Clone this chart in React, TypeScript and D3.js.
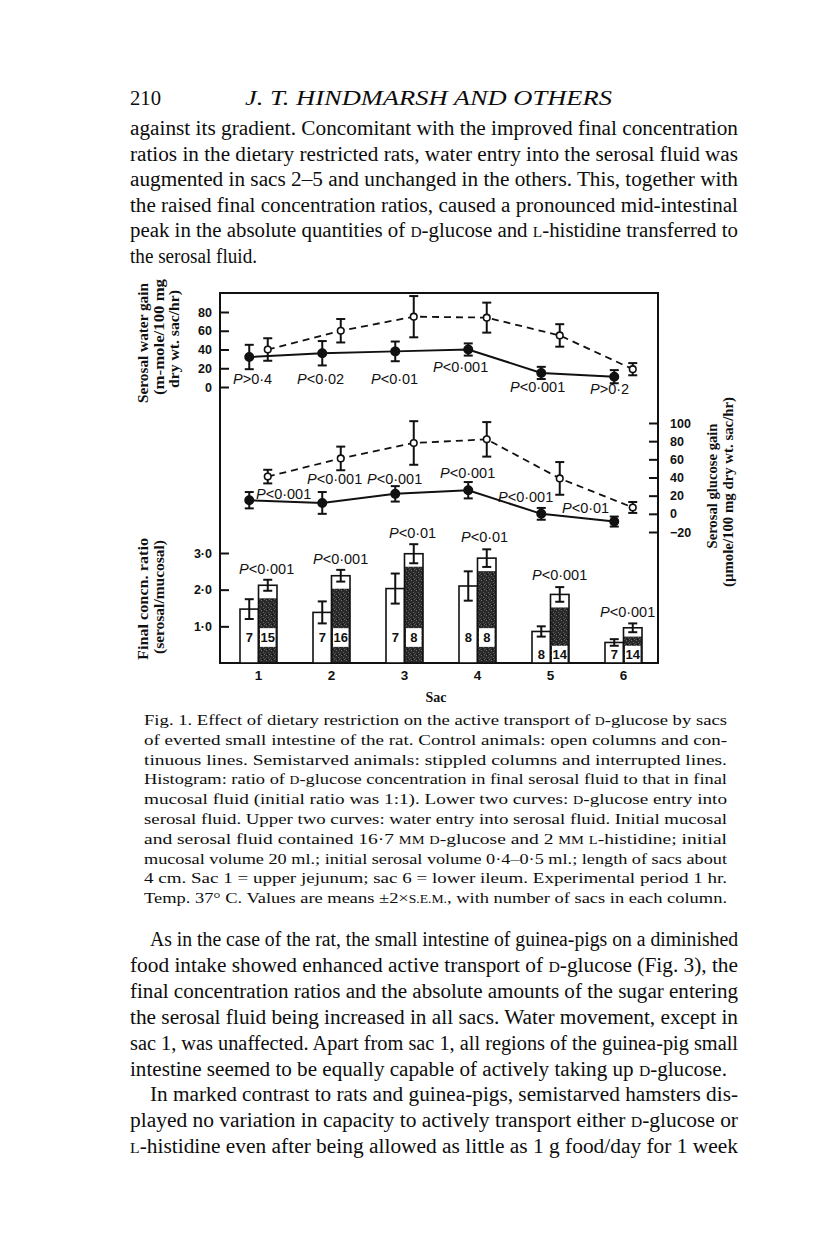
import { useEffect, useRef } from 'react';
import * as d3 from 'd3';

// ---- data ----
const sacs = [1, 2, 3, 4, 5, 6];

const waterControl = [32, 36, 38, 40, 15, 11];
const waterControlErr = [13, 13, 10.5, 6.5, 6.5, 7];
const waterStarved = [40, 60, 75, 74, 55, 19];
const waterStarvedErr = [12, 12.5, 22, 16, 12, 6.5];

const glucoseControl = [15, 12, 22, 26, 0, -8.5];
const glucoseControlErr = [9, 12, 8.5, 9, 6.5, 5.5];
const glucoseStarved = [41, 61, 78, 82, 39, 7];
const glucoseStarvedErr = [7.5, 13, 24, 19, 18, 6];

const ratioControl = [1.47, 1.38, 2.03, 2.1, 0.86, 0.56];
const ratioControlErr = [0.27, 0.3, 0.41, 0.4, 0.14, 0.09];
const ratioStarved = [2.12, 2.38, 2.98, 2.86, 1.87, 0.96];
const ratioStarvedErr = [0.15, 0.16, 0.26, 0.24, 0.2, 0.12];

const countControl = ['7', '7', '7', '8', '8', '7'];
const countStarved = ['15', '16', '8', '8', '14', '14'];

const pWater = ['P>0·4', 'P<0·02', 'P<0·01', 'P<0·001', 'P<0·001', 'P>0·2'];
const pGlucose = ['P<0·001', 'P<0·001', 'P<0·001', 'P<0·001', 'P<0·001', 'P<0·01'];
const pRatio = ['P<0·001', 'P<0·001', 'P<0·01', 'P<0·01', 'P<0·001', 'P<0·001'];

const waterTicks = [0, 20, 40, 60, 80];
const glucoseTicks = [-20, 0, 20, 40, 60, 80, 100];
const ratioTicks = [1, 2, 3];

// ---- page text ----
const headerLeft = '210';
const headerTitle = 'J. T. HINDMARSH AND OTHERS';

const para1 = [
  'against its gradient. Concomitant with the improved final concentration',
  'ratios in the dietary restricted rats, water entry into the serosal fluid was',
  'augmented in sacs 2–5 and unchanged in the others. This, together with',
  'the raised final concentration ratios, caused a pronounced mid-intestinal',
  'peak in the absolute quantities of {D}-glucose and {L}-histidine transferred to',
  'the serosal fluid.',
];

const caption = [
  'Fig. 1.  Effect of dietary restriction on the active transport of {D}-glucose by sacs',
  'of everted small intestine of the rat. Control animals: open columns and con-',
  'tinuous lines. Semistarved animals: stippled columns and interrupted lines.',
  'Histogram: ratio of {D}-glucose concentration in final serosal fluid to that in final',
  'mucosal fluid (initial ratio was 1:1). Lower two curves: {D}-glucose entry into',
  'serosal fluid. Upper two curves: water entry into serosal fluid. Initial mucosal',
  'and serosal fluid contained 16·7 {MM} {D}-glucose and 2 {MM} {L}-histidine; initial',
  'mucosal volume 20 ml.; initial serosal volume 0·4–0·5 ml.; length of sacs about',
  '4 cm. Sac 1 = upper jejunum; sac 6 = lower ileum. Experimental period 1 hr.',
  'Temp. 37° C. Values are means ±2×{S.E.M.}, with number of sacs in each column.',
];

const para2 = [
  'As in the case of the rat, the small intestine of guinea-pigs on a diminished',
  'food intake showed enhanced active transport of {D}-glucose (Fig. 3), the',
  'final concentration ratios and the absolute amounts of the sugar entering',
  'the serosal fluid being increased in all sacs. Water movement, except in',
  'sac 1, was unaffected. Apart from sac 1, all regions of the guinea-pig small',
  'intestine seemed to be equally capable of actively taking up {D}-glucose.',
  'In marked contrast to rats and guinea-pigs, semistarved hamsters dis-',
  'played no variation in capacity to actively transport either {D}-glucose or',
  '{L}-histidine even after being allowed as little as 1 g food/day for 1 week',
];

// ---- layout ----
const SERIF = '"Liberation Serif", "Times New Roman", serif';
const SANS = '"Liberation Sans", Arial, sans-serif';
const frame = { left: 220, right: 658, top: 293, bottom: 663 };

const x = d3.scalePoint<number>().domain(sacs).range([258, 623]);
const sub = d3.scaleBand().domain(['control', 'starved']).range([-18, 19]);
const yWater = d3.scaleLinear().domain([0, 80]).range([387, 312]);
const yGlucose = d3.scaleLinear().domain([-20, 100]).range([532, 423]);
const yRatio = d3.scaleLinear().domain([0, 3]).range([frame.bottom, 553]);

// P label anchors: [dx from sac centre, value on that panel's axis]
const pWaterPos = [[-25, 3], [-34, 3], [-33, 3], [-44, 16], [-40, -5.3], [-33, -7.5]];
const pGlucosePos = [[-2, 16.5], [-24, 33], [-37, 33], [-37, 39.6], [-52, 13.2], [-61, 1.1]];
const pRatioPos = [[-19, 2.43], [-18, 2.7], [-15, 3.4], [-16, 3.3], [-18, 2.26], [-23, 1.25]];

const rich = (s: string) =>
  s.split(/(\{[^}]*\})/).filter(Boolean).map((part, i) =>
    part.startsWith('{')
      ? <tspan key={i} fontSize="0.74em">{part.slice(1, -1)}</tspan>
      : <tspan key={i}>{part}</tspan>
  );

// widths: full measure unless given (last lines of paragraphs)
const TextBlock = ({ lines, x0, width, y0, step, size, indent = [], widths = {} }) => (
  <g fontFamily={SERIF} fontSize={size} fill="#0d0d0d">
    {lines.map((line, i) => {
      const dx = indent.includes(i) ? 20 : 0;
      const len = widths[i] ?? width - dx;
      return (
        <text
          key={i}
          x={x0 + dx}
          y={y0 + i * step}
          textLength={len}
          lengthAdjust="spacingAndGlyphs"
        >
          {rich(line)}
        </text>
      );
    })}
  </g>
);

const Chart = () => {
  const ref = useRef<SVGGElement>(null);

  useEffect(() => {
    const g = d3.select(ref.current);
    g.selectAll('*').remove();

    const cx = (i: number) => x(sacs[i]) as number;
    const w = sub.bandwidth();

    // frame
    g.append('rect')
      .attr('x', frame.left).attr('y', frame.top)
      .attr('width', frame.right - frame.left).attr('height', frame.bottom - frame.top)
      .attr('fill', 'none').attr('stroke', '#111').attr('stroke-width', 2);

    const styleAxis = (ax) => {
      ax.select('.domain').remove();
      ax.selectAll('line').attr('stroke', '#111').attr('stroke-width', 2);
      ax.selectAll('text')
        .attr('font-family', SANS).attr('font-size', 12.5)
        .attr('font-weight', 'bold').attr('fill', '#111');
    };

    styleAxis(g.append('g').attr('transform', `translate(${frame.left},0)`)
      .call(d3.axisLeft(yWater).tickValues(waterTicks).tickSize(-9).tickPadding(8).tickFormat(d3.format('d'))));
    styleAxis(g.append('g').attr('transform', `translate(${frame.left},0)`)
      .call(d3.axisLeft(yRatio).tickValues(ratioTicks).tickSize(-9).tickPadding(8)
        .tickFormat(d => (+d).toFixed(1).replace('.', '·'))));
    styleAxis(g.append('g').attr('transform', `translate(${frame.right},0)`)
      .call(d3.axisRight(yGlucose).tickValues(glucoseTicks).tickSize(-9).tickPadding(12)));
    const sacAxis = g.append('g').attr('transform', `translate(0,${frame.bottom})`)
      .call(d3.axisBottom(x).tickSize(0).tickPadding(7));
    styleAxis(sacAxis);
    sacAxis.selectAll('text').attr('font-size', 13.5);

    // ---- histogram ----
    const bars = g.append('g');
    const tall = (i: number) => ratioControl[i] > 1.2;
    const cap = (d: number) => Math.min(13, (frame.bottom - yRatio(d)) * 0.25);

    bars.selectAll('rect.ctrl')
      .data(ratioControl)
      .join('rect')
      .attr('class', 'ctrl')
      .attr('x', (d, i) => cx(i) + sub('control'))
      .attr('y', d => yRatio(d))
      .attr('width', w)
      .attr('height', d => frame.bottom - yRatio(d))
      .attr('fill', 'white').attr('stroke', '#111').attr('stroke-width', 1.6);

    const starvedG = bars.selectAll('g.starved')
      .data(ratioStarved)
      .join('g')
      .attr('class', 'starved');

    starvedG.append('rect')
      .attr('x', (d, i) => cx(i) + sub('starved'))
      .attr('y', d => yRatio(d))
      .attr('width', w)
      .attr('height', d => frame.bottom - yRatio(d))
      .attr('fill', 'white');
    starvedG.append('rect')
      .attr('x', (d, i) => cx(i) + sub('starved'))
      .attr('y', d => yRatio(d) + cap(d))
      .attr('width', w)
      .attr('height', d => frame.bottom - yRatio(d) - cap(d))
      .attr('fill', 'url(#stipple)');
    starvedG.append('rect')
      .attr('x', (d, i) => cx(i) + sub('starved') + 1.5)
      .attr('y', (d, i) => tall(i) ? yRatio(0.95) : yRatio(0.47))
      .attr('width', w - 3)
      .attr('height', (d, i) => tall(i) ? yRatio(0.44) - yRatio(0.95) : frame.bottom - yRatio(0.47))
      .attr('fill', 'white');
    starvedG.append('rect')
      .attr('x', (d, i) => cx(i) + sub('starved'))
      .attr('y', d => yRatio(d))
      .attr('width', w)
      .attr('height', d => frame.bottom - yRatio(d))
      .attr('fill', 'none').attr('stroke', '#111').attr('stroke-width', 1.6);

    const countY = (i: number) => tall(i) ? yRatio(0.44) - 5 : frame.bottom - 4;
    bars.selectAll('text.cc')
      .data(countControl)
      .join('text')
      .attr('class', 'cc')
      .attr('x', (d, i) => cx(i) + sub('control') + w / 2)
      .attr('y', (d, i) => countY(i))
      .attr('text-anchor', 'middle')
      .attr('font-family', SANS).attr('font-weight', 'bold').attr('font-size', 13)
      .attr('fill', '#111')
      .text(d => d);
    bars.selectAll('text.cs')
      .data(countStarved)
      .join('text')
      .attr('class', 'cs')
      .attr('x', (d, i) => cx(i) + sub('starved') + w / 2)
      .attr('y', (d, i) => countY(i))
      .attr('text-anchor', 'middle')
      .attr('font-family', SANS).attr('font-weight', 'bold').attr('font-size', 13)
      .attr('fill', '#111')
      .text(d => d);

    // ---- error bars ----
    const errorBars = (vals: number[], errs: number[], y, group: string) => {
      const eg = g.append('g').attr('stroke', '#111').attr('stroke-width', 2);
      vals.forEach((v, i) => {
        const px = cx(i) + (sub(group) as number) + w / 2;
        const y1 = y(v + errs[i]);
        const y2 = y(v - errs[i]);
        eg.append('line').attr('x1', px).attr('x2', px).attr('y1', y1).attr('y2', y2);
        eg.append('line').attr('x1', px - 4.5).attr('x2', px + 4.5).attr('y1', y1).attr('y2', y1);
        eg.append('line').attr('x1', px - 4.5).attr('x2', px + 4.5).attr('y1', y2).attr('y2', y2);
      });
    };

    errorBars(ratioControl, ratioControlErr, yRatio, 'control');
    errorBars(ratioStarved, ratioStarvedErr, yRatio, 'starved');

    // ---- curves ----
    const curve = (vals: number[], errs: number[], y, group: string) => {
      const px = (i: number) => cx(i) + (sub(group) as number) + w / 2;
      const line = d3.line<number>().x((d, i) => px(i)).y(d => y(d));
      const starved = group === 'starved';
      g.append('path')
        .attr('d', line(vals))
        .attr('fill', 'none').attr('stroke', '#111')
        .attr('stroke-width', starved ? 1.8 : 2)
        .attr('stroke-dasharray', starved ? '7,5' : null);
      errorBars(vals, errs, y, group);
      g.append('g').selectAll('circle')
        .data(vals)
        .join('circle')
        .attr('cx', (d, i) => px(i))
        .attr('cy', d => y(d))
        .attr('r', starved ? 3.3 : 4.2)
        .attr('fill', starved ? 'white' : '#111')
        .attr('stroke', '#111').attr('stroke-width', 1.6);
    };

    curve(waterControl, waterControlErr, yWater, 'control');
    curve(waterStarved, waterStarvedErr, yWater, 'starved');
    curve(glucoseControl, glucoseControlErr, yGlucose, 'control');
    curve(glucoseStarved, glucoseStarvedErr, yGlucose, 'starved');

    // ---- P labels ----
    const pLabels = (labels: string[], pos: number[][], y) => {
      labels.forEach((s, i) => {
        const t = g.append('text')
          .attr('x', cx(i) + pos[i][0])
          .attr('y', y(pos[i][1]))
          .attr('font-family', SANS).attr('font-size', 14.5).attr('fill', '#111');
        t.append('tspan').attr('font-style', 'italic').text(s[0]);
        t.append('tspan').text(s.slice(1));
      });
    };
    pLabels(pWater, pWaterPos, yWater);
    pLabels(pGlucose, pGlucosePos, yGlucose);
    pLabels(pRatio, pRatioPos, yRatio);

    // ---- axis titles ----
    const vTitle = (text: string, bx: number, cy: number, len: number) =>
      g.append('text')
        .attr('transform', `translate(${bx},${cy}) rotate(-90)`)
        .attr('text-anchor', 'middle')
        .attr('font-family', SERIF).attr('font-weight', 'bold').attr('font-size', 14)
        .attr('fill', '#111')
        .attr('textLength', len).attr('lengthAdjust', 'spacingAndGlyphs')
        .text(text);

    vTitle('Serosal water gain', 148, 343, 120);
    vTitle('(m-mole/100 mg', 164, 337, 116);
    vTitle('dry wt. sac/hr)', 179, 339, 98);
    vTitle('Final concn. ratio', 148, 599, 122);
    vTitle('(serosal/mucosal)', 164, 597, 114);
    vTitle('Serosal glucose gain', 717, 486, 125);
    vTitle('(µmole/100 mg dry wt. sac/hr)', 733, 492, 190);

    g.append('text')
      .attr('x', 436).attr('y', 702)
      .attr('text-anchor', 'middle')
      .attr('font-family', SERIF).attr('font-weight', 'bold').attr('font-size', 14)
      .attr('fill', '#111')
      .text('Sac');
  }, []);

  return <g ref={ref} />;
};

export default function App() {
  return (
    <svg
      width={816}
      height={1249}
      style={{ position: 'absolute', left: 0, top: 0, background: 'white' }}
    >
      <defs>
        <pattern id="stipple" width="5" height="5" patternUnits="userSpaceOnUse">
          <rect width="5" height="5" fill="#2a2a2a" />
          <rect x="1" y="0" width="1" height="1" fill="#6f6f6f" />
          <rect x="3" y="2" width="1" height="1" fill="#5e5e5e" />
          <rect x="0" y="3" width="1" height="1" fill="#4e4e4e" />
          <rect x="4" y="4" width="1" height="1" fill="#646464" />
          <rect x="2" y="4" width="1" height="1" fill="#0e0e0e" />
        </pattern>
      </defs>
      <rect width={816} height={1249} fill="white" />

      <g fontFamily={SERIF} fontSize={20} fill="#0d0d0d">
        <text x={130} y={105} textLength={31} lengthAdjust="spacingAndGlyphs">{headerLeft}</text>
        <text x={245} y={105} fontStyle="italic" textLength={367} lengthAdjust="spacingAndGlyphs">
          {headerTitle}
        </text>
      </g>

      <TextBlock lines={para1} x0={130} width={608} y0={135} step={25.6} size={20} widths={{ 5: 127 }} />

      <Chart />

      <TextBlock lines={caption} x0={144} width={583} y0={725} step={19.8} size={15.5} />

      <TextBlock
        lines={para2}
        x0={130}
        width={608}
        y0={946}
        step={25.9}
        size={20}
        indent={[0, 6]}
        widths={{ 5: 597 }}
      />
    </svg>
  );
}
